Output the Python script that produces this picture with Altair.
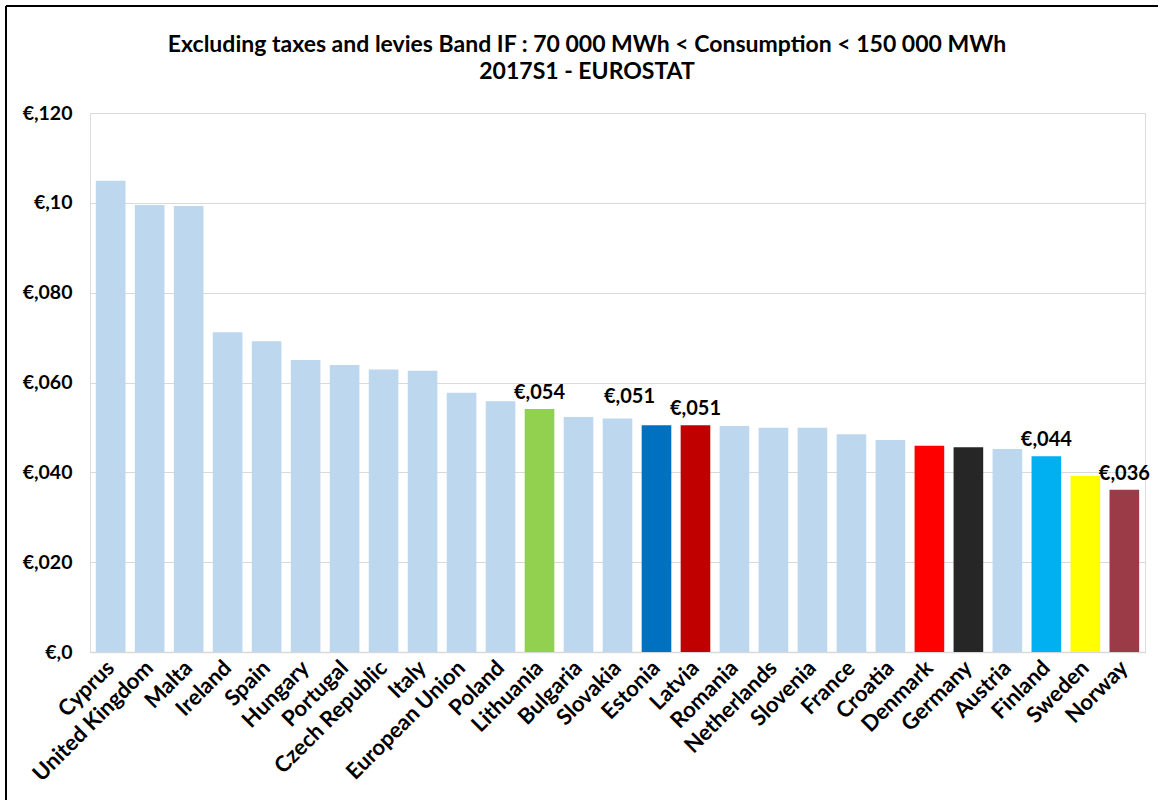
import altair as alt
import pandas as pd

countries = ["Cyprus", "United Kingdom", "Malta", "Ireland", "Spain", "Hungary", "Portugal",
             "Czech Republic", "Italy", "European Union", "Poland", "Lithuania", "Bulgaria",
             "Slovakia", "Estonia", "Latvia", "Romania", "Netherlands", "Slovenia", "France",
             "Croatia", "Denmark", "Germany", "Austria", "Finland", "Sweden", "Norway"]
values = [0.1049, 0.0995, 0.0993, 0.0712, 0.0692, 0.0650, 0.0639,
          0.0629, 0.0626, 0.0577, 0.0558, 0.0541, 0.0523,
          0.0520, 0.0505, 0.0505, 0.0503, 0.0499, 0.0499, 0.0485,
          0.0472, 0.0459, 0.0456, 0.0452, 0.0436, 0.0392, 0.0361]
colors = ["#BDD7EE"] * 11 + ["#92D050", "#BDD7EE", "#BDD7EE", "#0070C0", "#C00000",
          "#BDD7EE", "#BDD7EE", "#BDD7EE", "#BDD7EE", "#BDD7EE", "#FF0000", "#262626",
          "#BDD7EE", "#00B0F0", "#FFFF00", "#9A3B47"]
label_countries = ["Lithuania", "Latvia", "Finland", "Norway"]
label_texts = ["€,054", "€,051", "€,044", "€,036"]
estonia_label = "€,051"
title_lines = ["Excluding  taxes and levies Band IF : 70 000 MWh < Consumption < 150 000 MWh",
               "2017S1 - EUROSTAT"]

df = pd.DataFrame({"country": countries, "value": values, "color": colors})
lab = pd.DataFrame({"country": label_countries, "text": label_texts,
                    "value": [values[countries.index(c)] for c in label_countries]})
est = pd.DataFrame({"country": ["Estonia"], "text": [estonia_label],
                    "value": [values[countries.index("Estonia")]]})
one = pd.DataFrame({"k": [0]})

FONT = "Lato"

x = alt.X("country:N", sort=countries, title=None,
          scale=alt.Scale(paddingInner=0.24, paddingOuter=0.15),
          axis=alt.Axis(labelAngle=-45, labelAlign="right", labelBaseline="middle",
                        labelFontSize=22, labelFontWeight="bold", labelColor="#000000",
                        labelFont=FONT, labelPadding=12, ticks=False, labelOverlap=False,
                        domainColor="#D9D9D9", domainWidth=1.5, grid=False))
y = alt.Y("value:Q", title=None,
          scale=alt.Scale(domain=[0, 0.12], nice=False),
          axis=alt.Axis(values=[0, 0.02, 0.04, 0.06, 0.08, 0.1, 0.12],
                        labelExpr="datum.value == 0 ? '€,0' : (abs(datum.value - 0.1) < 1e-9 ? '€,10' : '€,' + format(datum.value * 1000, '03d'))",
                        labelFontSize=19.5, labelFontWeight="bold", labelColor="#000000",
                        labelFont=FONT, labelPadding=18, ticks=False, domain=False,
                        grid=True, gridColor="#D9D9D9", gridWidth=1))

bars = alt.Chart(df).mark_bar().encode(
    x=x, y=y, color=alt.Color("color:N", scale=None))

texts = alt.Chart(lab).mark_text(baseline="bottom", dy=-6, fontSize=20,
                                 fontWeight="bold", font=FONT, color="#000000").encode(
    x=alt.X("country:N", sort=countries), y="value:Q", text="text:N")

est_text = alt.Chart(est).mark_text(baseline="bottom", dy=-18, dx=-27, fontSize=20,
                                    fontWeight="bold", font=FONT, color="#000000").encode(
    x=alt.X("country:N", sort=countries), y="value:Q", text="text:N")

title1 = alt.Chart(one).mark_text(baseline="middle", align="center", fontSize=23,
                                  fontWeight="bold", font=FONT,
                                  color="#000000").encode(
    x=alt.value(497), y=alt.value(-68), text=alt.value(title_lines[0]))
title2 = alt.Chart(one).mark_text(baseline="middle", align="center", fontSize=23,
                                  fontWeight="bold", font=FONT,
                                  color="#000000").encode(
    x=alt.value(497), y=alt.value(-41), text=alt.value(title_lines[1]))

frame_left = alt.Chart(one).mark_rule(color="#000000", strokeWidth=2).encode(
    x=alt.value(-84), y=alt.value(-107), y2=alt.value(687))
frame_top = alt.Chart(one).mark_rule(color="#000000", strokeWidth=2).encode(
    x=alt.value(-84), x2=alt.value(1068), y=alt.value(-107))

chart = alt.layer(bars, texts, est_text, title1, title2, frame_left, frame_top).properties(
    width=1055, height=539,
    padding={"left": 90, "top": 113, "right": 17, "bottom": 148},
    autosize=alt.AutoSizeParams(type="none"),
).configure_view(stroke="transparent").configure(background="white")

chart.save("out.html", embed_options={"renderer": "svg", "actions": False})
